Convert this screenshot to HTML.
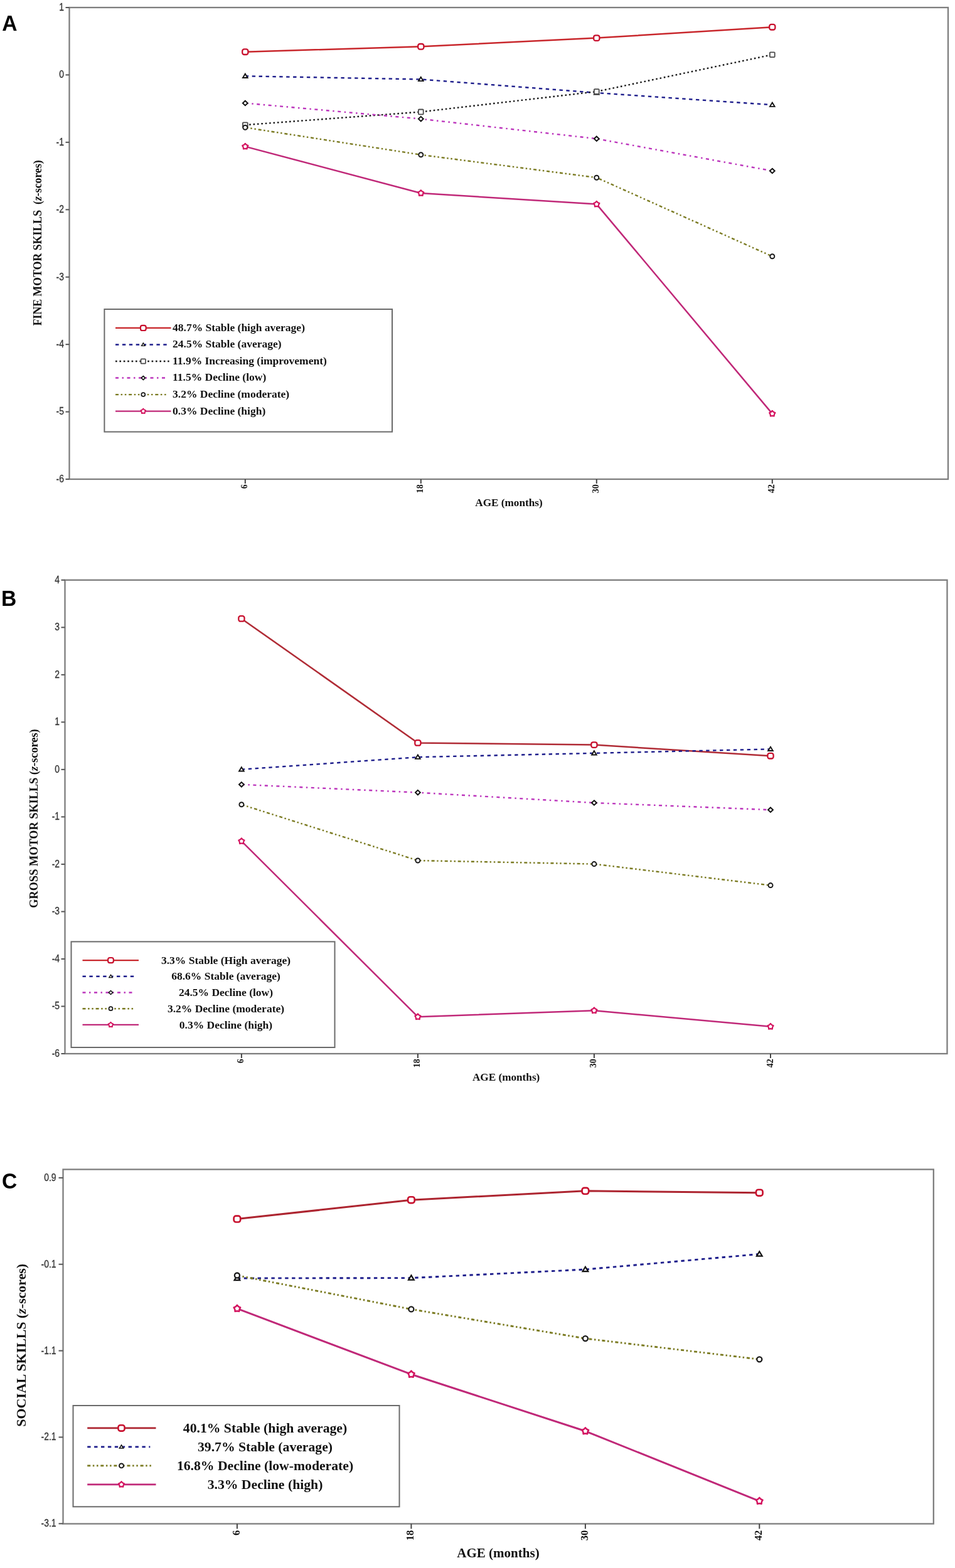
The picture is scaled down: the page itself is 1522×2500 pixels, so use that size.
<!DOCTYPE html>
<html><head><meta charset="utf-8"><title>Motor and social skills trajectories</title>
<style>html,body{margin:0;padding:0;background:#fff;}svg{display:block;}</style></head>
<body>
<svg width="1522" height="2500" viewBox="0 0 1522 2500">
<rect width="1522" height="2500" fill="#fff"/>
<rect x="110.5" y="12" width="1400.5" height="752" fill="none" stroke="#7d7d7d" stroke-width="2.3"/>
<line x1="104.5" y1="12" x2="110.5" y2="12" stroke="#555" stroke-width="2"/>
<text transform="translate(101.9,16.9) scale(0.88,1)" text-anchor="end" font-family='"Liberation Sans", Arial, sans-serif' font-size="15.8" fill="#333" stroke="#333" stroke-width="0.3">1</text>
<line x1="104.5" y1="119.43" x2="110.5" y2="119.43" stroke="#555" stroke-width="2"/>
<text transform="translate(101.9,124.33) scale(0.88,1)" text-anchor="end" font-family='"Liberation Sans", Arial, sans-serif' font-size="15.8" fill="#333" stroke="#333" stroke-width="0.3">0</text>
<line x1="104.5" y1="226.86" x2="110.5" y2="226.86" stroke="#555" stroke-width="2"/>
<text transform="translate(101.9,231.76) scale(0.88,1)" text-anchor="end" font-family='"Liberation Sans", Arial, sans-serif' font-size="15.8" fill="#333" stroke="#333" stroke-width="0.3">-1</text>
<line x1="104.5" y1="334.29" x2="110.5" y2="334.29" stroke="#555" stroke-width="2"/>
<text transform="translate(101.9,339.19) scale(0.88,1)" text-anchor="end" font-family='"Liberation Sans", Arial, sans-serif' font-size="15.8" fill="#333" stroke="#333" stroke-width="0.3">-2</text>
<line x1="104.5" y1="441.71" x2="110.5" y2="441.71" stroke="#555" stroke-width="2"/>
<text transform="translate(101.9,446.61) scale(0.88,1)" text-anchor="end" font-family='"Liberation Sans", Arial, sans-serif' font-size="15.8" fill="#333" stroke="#333" stroke-width="0.3">-3</text>
<line x1="104.5" y1="549.14" x2="110.5" y2="549.14" stroke="#555" stroke-width="2"/>
<text transform="translate(101.9,554.04) scale(0.88,1)" text-anchor="end" font-family='"Liberation Sans", Arial, sans-serif' font-size="15.8" fill="#333" stroke="#333" stroke-width="0.3">-4</text>
<line x1="104.5" y1="656.57" x2="110.5" y2="656.57" stroke="#555" stroke-width="2"/>
<text transform="translate(101.9,661.47) scale(0.88,1)" text-anchor="end" font-family='"Liberation Sans", Arial, sans-serif' font-size="15.8" fill="#333" stroke="#333" stroke-width="0.3">-5</text>
<line x1="104.5" y1="764" x2="110.5" y2="764" stroke="#555" stroke-width="2"/>
<text transform="translate(101.9,768.9) scale(0.88,1)" text-anchor="end" font-family='"Liberation Sans", Arial, sans-serif' font-size="15.8" fill="#333" stroke="#333" stroke-width="0.3">-6</text>
<line x1="390.8" y1="764" x2="390.8" y2="771" stroke="#444" stroke-width="2"/>
<text transform="translate(394.3,772.2) rotate(-90)" text-anchor="end" font-family='"Liberation Serif", "Times New Roman", serif' font-weight="bold" font-size="14" fill="#111">6</text>
<line x1="670.8" y1="764" x2="670.8" y2="771" stroke="#444" stroke-width="2"/>
<text transform="translate(674.3,772.2) rotate(-90)" text-anchor="end" font-family='"Liberation Serif", "Times New Roman", serif' font-weight="bold" font-size="14" fill="#111">18</text>
<line x1="950.8" y1="764" x2="950.8" y2="771" stroke="#444" stroke-width="2"/>
<text transform="translate(954.3,772.2) rotate(-90)" text-anchor="end" font-family='"Liberation Serif", "Times New Roman", serif' font-weight="bold" font-size="14" fill="#111">30</text>
<line x1="1230.8" y1="764" x2="1230.8" y2="771" stroke="#444" stroke-width="2"/>
<text transform="translate(1234.3,772.2) rotate(-90)" text-anchor="end" font-family='"Liberation Serif", "Times New Roman", serif' font-weight="bold" font-size="14" fill="#111">42</text>
<path d="M390.8,82.7 L670.8,74.3 L950.8,60.6 L1230.8,43.2" fill="none" stroke="#c8262b" stroke-width="2.5" stroke-linejoin="round"/>
<path d="M390.8,121.3 L670.8,126.5 L950.8,148 L1230.8,167.2" fill="none" stroke="#1e1e8c" stroke-width="2.4" stroke-dasharray="5.4 5.5" stroke-linejoin="round"/>
<path d="M390.8,199.2 L670.8,178.4 L950.8,146 L1230.8,87.2" fill="none" stroke="#1a1a1a" stroke-width="2.4" stroke-dasharray="2.6 3.8" stroke-linejoin="round"/>
<path d="M390.8,164.4 L670.8,189.6 L950.8,221.2 L1230.8,272.5" fill="none" stroke="#bc34bc" stroke-width="2.4" stroke-dasharray="5 5.5 2.5 5.5" stroke-linejoin="round"/>
<path d="M390.8,203.2 L670.8,246.8 L950.8,283.2 L1230.8,408.8" fill="none" stroke="#7b7b22" stroke-width="2.4" stroke-dasharray="5 3.6 2.5 3.7 2.5 3.8" stroke-linejoin="round"/>
<path d="M390.8,233.6 L670.8,308 L950.8,325.6 L1230.8,659.6" fill="none" stroke="#c02878" stroke-width="2.5" stroke-linejoin="round"/>
<rect x="386.2" y="78.4" width="9.2" height="8.6" rx="3" fill="#fff" stroke="#c8102e" stroke-width="2.3"/>
<rect x="666.2" y="70" width="9.2" height="8.6" rx="3" fill="#fff" stroke="#c8102e" stroke-width="2.3"/>
<rect x="946.2" y="56.3" width="9.2" height="8.6" rx="3" fill="#fff" stroke="#c8102e" stroke-width="2.3"/>
<rect x="1226.2" y="38.9" width="9.2" height="8.6" rx="3" fill="#fff" stroke="#c8102e" stroke-width="2.3"/>
<polygon points="390.8,117.67 394.6,123.94 387,123.94" fill="#fff" stroke="#111" stroke-width="1.9"/>
<polygon points="670.8,122.87 674.59,129.14 667,129.14" fill="#fff" stroke="#111" stroke-width="1.9"/>
<polygon points="950.8,144.37 954.59,150.64 947,150.64" fill="#fff" stroke="#111" stroke-width="1.9"/>
<polygon points="1230.8,163.57 1234.6,169.84 1227,169.84" fill="#fff" stroke="#111" stroke-width="1.9"/>
<rect x="386.9" y="195.3" width="7.8" height="7.8" rx="1" fill="#fff" stroke="#4a4a4a" stroke-width="1.8"/>
<rect x="666.9" y="174.5" width="7.8" height="7.8" rx="1" fill="#fff" stroke="#4a4a4a" stroke-width="1.8"/>
<rect x="946.9" y="142.1" width="7.8" height="7.8" rx="1" fill="#fff" stroke="#4a4a4a" stroke-width="1.8"/>
<rect x="1226.9" y="83.3" width="7.8" height="7.8" rx="1" fill="#fff" stroke="#4a4a4a" stroke-width="1.8"/>
<polygon points="390.8,160.7 394.69,164.4 390.8,168.1 386.92,164.4" fill="#fff" stroke="#111" stroke-width="2"/>
<polygon points="670.8,185.9 674.68,189.6 670.8,193.3 666.91,189.6" fill="#fff" stroke="#111" stroke-width="2"/>
<polygon points="950.8,217.5 954.68,221.2 950.8,224.9 946.91,221.2" fill="#fff" stroke="#111" stroke-width="2"/>
<polygon points="1230.8,268.8 1234.68,272.5 1230.8,276.2 1226.91,272.5" fill="#fff" stroke="#111" stroke-width="2"/>
<circle cx="390.8" cy="203.2" r="3.5" fill="#fff" stroke="#1a1a1a" stroke-width="2"/>
<circle cx="670.8" cy="246.8" r="3.5" fill="#fff" stroke="#1a1a1a" stroke-width="2"/>
<circle cx="950.8" cy="283.2" r="3.5" fill="#fff" stroke="#1a1a1a" stroke-width="2"/>
<circle cx="1230.8" cy="408.8" r="3.5" fill="#fff" stroke="#1a1a1a" stroke-width="2"/>
<polygon points="390.8,228.8 392.74,230.93 395.37,232.12 393.94,234.62 393.62,237.48 390.8,236.9 387.98,237.48 387.66,234.62 386.23,232.12 388.86,230.93" fill="#fff" stroke="#d4135f" stroke-width="2.2" stroke-linejoin="round"/>
<polygon points="670.8,303.2 672.74,305.33 675.37,306.52 673.94,309.02 673.62,311.88 670.8,311.3 667.98,311.88 667.66,309.02 666.23,306.52 668.86,305.33" fill="#fff" stroke="#d4135f" stroke-width="2.2" stroke-linejoin="round"/>
<polygon points="950.8,320.8 952.74,322.93 955.37,324.12 953.94,326.62 953.62,329.48 950.8,328.9 947.98,329.48 947.66,326.62 946.23,324.12 948.86,322.93" fill="#fff" stroke="#d4135f" stroke-width="2.2" stroke-linejoin="round"/>
<polygon points="1230.8,654.8 1232.74,656.93 1235.37,658.12 1233.94,660.62 1233.62,663.48 1230.8,662.9 1227.98,663.48 1227.66,660.62 1226.23,658.12 1228.86,656.93" fill="#fff" stroke="#d4135f" stroke-width="2.2" stroke-linejoin="round"/>
<rect x="166.4" y="493" width="458.6" height="195.5" fill="none" stroke="#6a6a6a" stroke-width="2"/>
<line x1="184" y1="522.9" x2="272.5" y2="522.9" stroke="#c8262b" stroke-width="2.4"/>
<rect x="223.93" y="518.81" width="8.74" height="8.17" rx="2.85" fill="#fff" stroke="#c8102e" stroke-width="2.18"/>
<text x="275" y="527.8" text-anchor="start" font-family='"Liberation Serif", "Times New Roman", serif' font-weight="bold" font-size="17.5" fill="#111">48.7% Stable (high average)</text>
<line x1="184" y1="549.45" x2="266" y2="549.45" stroke="#1e1e8c" stroke-width="2.4" stroke-dasharray="5.4 5.5"/>
<polygon points="228.3,546.86 231,551.33 225.6,551.33" fill="#fff" stroke="#111" stroke-width="1.35"/>
<text x="275" y="554.35" text-anchor="start" font-family='"Liberation Serif", "Times New Roman", serif' font-weight="bold" font-size="17.5" fill="#111">24.5% Stable (average)</text>
<line x1="184" y1="576" x2="269.6" y2="576" stroke="#1a1a1a" stroke-width="2.4" stroke-dasharray="2.6 3.8"/>
<rect x="224.59" y="572.29" width="7.41" height="7.41" rx="1" fill="#fff" stroke="#4a4a4a" stroke-width="1.71"/>
<text x="275" y="580.9" text-anchor="start" font-family='"Liberation Serif", "Times New Roman", serif' font-weight="bold" font-size="17.5" fill="#111">11.9% Increasing (improvement)</text>
<line x1="184" y1="602.55" x2="266" y2="602.55" stroke="#bc34bc" stroke-width="2.4" stroke-dasharray="5 5.5 2.5 5.5"/>
<polygon points="228.3,599.56 231.44,602.55 228.3,605.54 225.16,602.55" fill="#fff" stroke="#111" stroke-width="1.61"/>
<text x="275" y="607.45" text-anchor="start" font-family='"Liberation Serif", "Times New Roman", serif' font-weight="bold" font-size="17.5" fill="#111">11.5% Decline (low)</text>
<line x1="184" y1="629.1" x2="267.7" y2="629.1" stroke="#7b7b22" stroke-width="2.4" stroke-dasharray="5 3.6 2.5 3.7 2.5 3.8"/>
<circle cx="228.3" cy="629.1" r="2.99" fill="#fff" stroke="#1a1a1a" stroke-width="1.71"/>
<text x="275" y="634" text-anchor="start" font-family='"Liberation Serif", "Times New Roman", serif' font-weight="bold" font-size="17.5" fill="#111">3.2% Decline (moderate)</text>
<line x1="184" y1="655.65" x2="272.5" y2="655.65" stroke="#c02878" stroke-width="2.4"/>
<polygon points="228.3,651.55 229.96,653.37 232.2,654.38 230.98,656.52 230.71,658.97 228.3,658.47 225.89,658.97 225.62,656.52 224.4,654.38 226.64,653.37" fill="#fff" stroke="#d4135f" stroke-width="1.88" stroke-linejoin="round"/>
<text x="275" y="660.55" text-anchor="start" font-family='"Liberation Serif", "Times New Roman", serif' font-weight="bold" font-size="17.5" fill="#111">0.3% Decline (high)</text>
<text x="811" y="806.6" text-anchor="middle" font-family='"Liberation Serif", "Times New Roman", serif' font-weight="bold" font-size="17.2" fill="#111">AGE (months)</text>
<text transform="translate(66.2,387.3) rotate(-90)" text-anchor="middle" font-family='"Liberation Serif", "Times New Roman", serif' font-weight="bold" font-size="17.8" fill="#111" xml:space="preserve">FINE MOTOR SKILLS  (<tspan font-style="italic">z</tspan>-scores)</text>
<text transform="translate(3.3,48.6) scale(0.96,1)" font-family='"Liberation Sans", Arial, sans-serif' font-weight="bold" font-size="35" fill="#000">A</text>
<rect x="103.5" y="924.8" width="1406" height="755.2" fill="none" stroke="#7d7d7d" stroke-width="2.3"/>
<line x1="97.5" y1="924.8" x2="103.5" y2="924.8" stroke="#555" stroke-width="2"/>
<text transform="translate(95,929.7) scale(0.88,1)" text-anchor="end" font-family='"Liberation Sans", Arial, sans-serif' font-size="15.8" fill="#333" stroke="#333" stroke-width="0.3">4</text>
<line x1="97.5" y1="1000.32" x2="103.5" y2="1000.32" stroke="#555" stroke-width="2"/>
<text transform="translate(95,1005.22) scale(0.88,1)" text-anchor="end" font-family='"Liberation Sans", Arial, sans-serif' font-size="15.8" fill="#333" stroke="#333" stroke-width="0.3">3</text>
<line x1="97.5" y1="1075.84" x2="103.5" y2="1075.84" stroke="#555" stroke-width="2"/>
<text transform="translate(95,1080.74) scale(0.88,1)" text-anchor="end" font-family='"Liberation Sans", Arial, sans-serif' font-size="15.8" fill="#333" stroke="#333" stroke-width="0.3">2</text>
<line x1="97.5" y1="1151.36" x2="103.5" y2="1151.36" stroke="#555" stroke-width="2"/>
<text transform="translate(95,1156.26) scale(0.88,1)" text-anchor="end" font-family='"Liberation Sans", Arial, sans-serif' font-size="15.8" fill="#333" stroke="#333" stroke-width="0.3">1</text>
<line x1="97.5" y1="1226.88" x2="103.5" y2="1226.88" stroke="#555" stroke-width="2"/>
<text transform="translate(95,1231.78) scale(0.88,1)" text-anchor="end" font-family='"Liberation Sans", Arial, sans-serif' font-size="15.8" fill="#333" stroke="#333" stroke-width="0.3">0</text>
<line x1="97.5" y1="1302.4" x2="103.5" y2="1302.4" stroke="#555" stroke-width="2"/>
<text transform="translate(95,1307.3) scale(0.88,1)" text-anchor="end" font-family='"Liberation Sans", Arial, sans-serif' font-size="15.8" fill="#333" stroke="#333" stroke-width="0.3">-1</text>
<line x1="97.5" y1="1377.92" x2="103.5" y2="1377.92" stroke="#555" stroke-width="2"/>
<text transform="translate(95,1382.82) scale(0.88,1)" text-anchor="end" font-family='"Liberation Sans", Arial, sans-serif' font-size="15.8" fill="#333" stroke="#333" stroke-width="0.3">-2</text>
<line x1="97.5" y1="1453.44" x2="103.5" y2="1453.44" stroke="#555" stroke-width="2"/>
<text transform="translate(95,1458.34) scale(0.88,1)" text-anchor="end" font-family='"Liberation Sans", Arial, sans-serif' font-size="15.8" fill="#333" stroke="#333" stroke-width="0.3">-3</text>
<line x1="97.5" y1="1528.96" x2="103.5" y2="1528.96" stroke="#555" stroke-width="2"/>
<text transform="translate(95,1533.86) scale(0.88,1)" text-anchor="end" font-family='"Liberation Sans", Arial, sans-serif' font-size="15.8" fill="#333" stroke="#333" stroke-width="0.3">-4</text>
<line x1="97.5" y1="1604.48" x2="103.5" y2="1604.48" stroke="#555" stroke-width="2"/>
<text transform="translate(95,1609.38) scale(0.88,1)" text-anchor="end" font-family='"Liberation Sans", Arial, sans-serif' font-size="15.8" fill="#333" stroke="#333" stroke-width="0.3">-5</text>
<line x1="97.5" y1="1680" x2="103.5" y2="1680" stroke="#555" stroke-width="2"/>
<text transform="translate(95,1684.9) scale(0.88,1)" text-anchor="end" font-family='"Liberation Sans", Arial, sans-serif' font-size="15.8" fill="#333" stroke="#333" stroke-width="0.3">-6</text>
<line x1="384.9" y1="1680" x2="384.9" y2="1687" stroke="#444" stroke-width="2"/>
<text transform="translate(388.4,1688.3) rotate(-90)" text-anchor="end" font-family='"Liberation Serif", "Times New Roman", serif' font-weight="bold" font-size="14" fill="#111">6</text>
<line x1="665.9" y1="1680" x2="665.9" y2="1687" stroke="#444" stroke-width="2"/>
<text transform="translate(669.4,1688.3) rotate(-90)" text-anchor="end" font-family='"Liberation Serif", "Times New Roman", serif' font-weight="bold" font-size="14" fill="#111">18</text>
<line x1="946.9" y1="1680" x2="946.9" y2="1687" stroke="#444" stroke-width="2"/>
<text transform="translate(950.4,1688.3) rotate(-90)" text-anchor="end" font-family='"Liberation Serif", "Times New Roman", serif' font-weight="bold" font-size="14" fill="#111">30</text>
<line x1="1228" y1="1680" x2="1228" y2="1687" stroke="#444" stroke-width="2"/>
<text transform="translate(1231.5,1688.3) rotate(-90)" text-anchor="end" font-family='"Liberation Serif", "Times New Roman", serif' font-weight="bold" font-size="14" fill="#111">42</text>
<path d="M384.9,986.4 L665.9,1184.4 L946.9,1187.6 L1228,1205.2" fill="none" stroke="#b02b35" stroke-width="2.5" stroke-linejoin="round"/>
<path d="M384.9,1226.8 L665.9,1207.2 L946.9,1200.8 L1228,1194.4" fill="none" stroke="#1e1e8c" stroke-width="2.4" stroke-dasharray="5.4 5.5" stroke-linejoin="round"/>
<path d="M384.9,1250.8 L665.9,1263.6 L946.9,1280 L1228,1291.2" fill="none" stroke="#bc34bc" stroke-width="2.4" stroke-dasharray="5 5.5 2.5 5.5" stroke-linejoin="round"/>
<path d="M384.9,1282.8 L665.9,1372 L946.9,1377.6 L1228,1411.6" fill="none" stroke="#7b7b22" stroke-width="2.4" stroke-dasharray="5 3.6 2.5 3.7 2.5 3.8" stroke-linejoin="round"/>
<path d="M384.9,1341.2 L665.9,1621.2 L946.9,1611.2 L1228,1636.8" fill="none" stroke="#c02878" stroke-width="2.5" stroke-linejoin="round"/>
<rect x="380.3" y="982.1" width="9.2" height="8.6" rx="3" fill="#fff" stroke="#c8102e" stroke-width="2.3"/>
<rect x="661.3" y="1180.1" width="9.2" height="8.6" rx="3" fill="#fff" stroke="#c8102e" stroke-width="2.3"/>
<rect x="942.3" y="1183.3" width="9.2" height="8.6" rx="3" fill="#fff" stroke="#c8102e" stroke-width="2.3"/>
<rect x="1223.4" y="1200.9" width="9.2" height="8.6" rx="3" fill="#fff" stroke="#c8102e" stroke-width="2.3"/>
<polygon points="384.9,1223.17 388.69,1229.44 381.1,1229.44" fill="#fff" stroke="#111" stroke-width="1.9"/>
<polygon points="665.9,1203.57 669.69,1209.84 662.11,1209.84" fill="#fff" stroke="#111" stroke-width="1.9"/>
<polygon points="946.9,1197.17 950.69,1203.44 943.11,1203.44" fill="#fff" stroke="#111" stroke-width="1.9"/>
<polygon points="1228,1190.77 1231.8,1197.04 1224.2,1197.04" fill="#fff" stroke="#111" stroke-width="1.9"/>
<polygon points="384.9,1247.1 388.78,1250.8 384.9,1254.5 381.01,1250.8" fill="#fff" stroke="#111" stroke-width="2"/>
<polygon points="665.9,1259.9 669.78,1263.6 665.9,1267.3 662.01,1263.6" fill="#fff" stroke="#111" stroke-width="2"/>
<polygon points="946.9,1276.3 950.78,1280 946.9,1283.7 943.01,1280" fill="#fff" stroke="#111" stroke-width="2"/>
<polygon points="1228,1287.5 1231.88,1291.2 1228,1294.9 1224.12,1291.2" fill="#fff" stroke="#111" stroke-width="2"/>
<circle cx="384.9" cy="1282.8" r="3.5" fill="#fff" stroke="#1a1a1a" stroke-width="2"/>
<circle cx="665.9" cy="1372" r="3.5" fill="#fff" stroke="#1a1a1a" stroke-width="2"/>
<circle cx="946.9" cy="1377.6" r="3.5" fill="#fff" stroke="#1a1a1a" stroke-width="2"/>
<circle cx="1228" cy="1411.6" r="3.5" fill="#fff" stroke="#1a1a1a" stroke-width="2"/>
<polygon points="384.9,1336.4 386.84,1338.53 389.47,1339.72 388.04,1342.22 387.72,1345.08 384.9,1344.5 382.08,1345.08 381.76,1342.22 380.33,1339.72 382.96,1338.53" fill="#fff" stroke="#d4135f" stroke-width="2.2" stroke-linejoin="round"/>
<polygon points="665.9,1616.4 667.84,1618.53 670.47,1619.72 669.04,1622.22 668.72,1625.08 665.9,1624.5 663.08,1625.08 662.76,1622.22 661.33,1619.72 663.96,1618.53" fill="#fff" stroke="#d4135f" stroke-width="2.2" stroke-linejoin="round"/>
<polygon points="946.9,1606.4 948.84,1608.53 951.47,1609.72 950.04,1612.22 949.72,1615.08 946.9,1614.5 944.08,1615.08 943.76,1612.22 942.33,1609.72 944.96,1608.53" fill="#fff" stroke="#d4135f" stroke-width="2.2" stroke-linejoin="round"/>
<polygon points="1228,1632 1229.94,1634.13 1232.57,1635.32 1231.14,1637.82 1230.82,1640.68 1228,1640.1 1225.18,1640.68 1224.86,1637.82 1223.43,1635.32 1226.06,1634.13" fill="#fff" stroke="#d4135f" stroke-width="2.2" stroke-linejoin="round"/>
<rect x="113.5" y="1501.4" width="420" height="168.6" fill="none" stroke="#6a6a6a" stroke-width="2"/>
<line x1="131.5" y1="1531.1" x2="221" y2="1531.1" stroke="#c8262b" stroke-width="2.4"/>
<rect x="172.13" y="1527.01" width="8.74" height="8.17" rx="2.85" fill="#fff" stroke="#c8102e" stroke-width="2.18"/>
<text x="360" y="1536.7" text-anchor="middle" font-family='"Liberation Serif", "Times New Roman", serif' font-weight="bold" font-size="17.5" fill="#111">3.3% Stable (High average)</text>
<line x1="131.5" y1="1556.8" x2="214" y2="1556.8" stroke="#1e1e8c" stroke-width="2.4" stroke-dasharray="5.4 5.5"/>
<polygon points="176.5,1554.21 179.2,1558.68 173.8,1558.68" fill="#fff" stroke="#111" stroke-width="1.35"/>
<text x="360" y="1562.4" text-anchor="middle" font-family='"Liberation Serif", "Times New Roman", serif' font-weight="bold" font-size="17.5" fill="#111">68.6% Stable (average)</text>
<line x1="131.5" y1="1582.5" x2="214" y2="1582.5" stroke="#bc34bc" stroke-width="2.4" stroke-dasharray="5 5.5 2.5 5.5"/>
<polygon points="176.5,1579.51 179.64,1582.5 176.5,1585.49 173.36,1582.5" fill="#fff" stroke="#111" stroke-width="1.61"/>
<text x="360" y="1588.1" text-anchor="middle" font-family='"Liberation Serif", "Times New Roman", serif' font-weight="bold" font-size="17.5" fill="#111">24.5% Decline (low)</text>
<line x1="131.5" y1="1608.2" x2="215.5" y2="1608.2" stroke="#7b7b22" stroke-width="2.4" stroke-dasharray="5 3.6 2.5 3.7 2.5 3.8"/>
<circle cx="176.5" cy="1608.2" r="2.99" fill="#fff" stroke="#1a1a1a" stroke-width="1.71"/>
<text x="360" y="1613.8" text-anchor="middle" font-family='"Liberation Serif", "Times New Roman", serif' font-weight="bold" font-size="17.5" fill="#111">3.2% Decline (moderate)</text>
<line x1="131.5" y1="1633.9" x2="221" y2="1633.9" stroke="#c02878" stroke-width="2.4"/>
<polygon points="176.5,1629.8 178.16,1631.62 180.4,1632.63 179.18,1634.77 178.91,1637.22 176.5,1636.72 174.09,1637.22 173.82,1634.77 172.6,1632.63 174.84,1631.62" fill="#fff" stroke="#d4135f" stroke-width="1.88" stroke-linejoin="round"/>
<text x="360" y="1639.5" text-anchor="middle" font-family='"Liberation Serif", "Times New Roman", serif' font-weight="bold" font-size="17.5" fill="#111">0.3% Decline (high)</text>
<text x="806.6" y="1722.8" text-anchor="middle" font-family='"Liberation Serif", "Times New Roman", serif' font-weight="bold" font-size="17.2" fill="#111">AGE (months)</text>
<text transform="translate(59.8,1305) rotate(-90)" text-anchor="middle" font-family='"Liberation Serif", "Times New Roman", serif' font-weight="bold" font-size="18.3" fill="#111" xml:space="preserve">GROSS MOTOR SKILLS (<tspan font-style="italic">z</tspan>-scores)</text>
<text transform="translate(2,965.5) scale(0.96,1)" font-family='"Liberation Sans", Arial, sans-serif' font-weight="bold" font-size="35" fill="#000">B</text>
<rect x="100.5" y="1864.5" width="1387.3" height="565" fill="none" stroke="#7d7d7d" stroke-width="2.3"/>
<line x1="93.5" y1="1877.9" x2="100.5" y2="1877.9" stroke="#555" stroke-width="2"/>
<text transform="translate(89.5,1882.8) scale(0.88,1)" text-anchor="end" font-family='"Liberation Sans", Arial, sans-serif' font-size="15.8" fill="#333" stroke="#333" stroke-width="0.3">0.9</text>
<line x1="93.5" y1="2015.75" x2="100.5" y2="2015.75" stroke="#555" stroke-width="2"/>
<text transform="translate(89.5,2020.65) scale(0.88,1)" text-anchor="end" font-family='"Liberation Sans", Arial, sans-serif' font-size="15.8" fill="#333" stroke="#333" stroke-width="0.3">-0.1</text>
<line x1="93.5" y1="2153.6" x2="100.5" y2="2153.6" stroke="#555" stroke-width="2"/>
<text transform="translate(89.5,2158.5) scale(0.88,1)" text-anchor="end" font-family='"Liberation Sans", Arial, sans-serif' font-size="15.8" fill="#333" stroke="#333" stroke-width="0.3">-1.1</text>
<line x1="93.5" y1="2291.45" x2="100.5" y2="2291.45" stroke="#555" stroke-width="2"/>
<text transform="translate(89.5,2296.35) scale(0.88,1)" text-anchor="end" font-family='"Liberation Sans", Arial, sans-serif' font-size="15.8" fill="#333" stroke="#333" stroke-width="0.3">-2.1</text>
<line x1="93.5" y1="2429.3" x2="100.5" y2="2429.3" stroke="#555" stroke-width="2"/>
<text transform="translate(89.5,2434.2) scale(0.88,1)" text-anchor="end" font-family='"Liberation Sans", Arial, sans-serif' font-size="15.8" fill="#333" stroke="#333" stroke-width="0.3">-3.1</text>
<line x1="377.9" y1="2429.5" x2="377.9" y2="2437.5" stroke="#444" stroke-width="2"/>
<text transform="translate(381.7,2439.8) rotate(-90)" text-anchor="end" font-family='"Liberation Serif", "Times New Roman", serif' font-weight="bold" font-size="16.5" fill="#111">6</text>
<line x1="655.4" y1="2429.5" x2="655.4" y2="2437.5" stroke="#444" stroke-width="2"/>
<text transform="translate(659.2,2439.8) rotate(-90)" text-anchor="end" font-family='"Liberation Serif", "Times New Roman", serif' font-weight="bold" font-size="16.5" fill="#111">18</text>
<line x1="932.9" y1="2429.5" x2="932.9" y2="2437.5" stroke="#444" stroke-width="2"/>
<text transform="translate(936.7,2439.8) rotate(-90)" text-anchor="end" font-family='"Liberation Serif", "Times New Roman", serif' font-weight="bold" font-size="16.5" fill="#111">30</text>
<line x1="1210.3" y1="2429.5" x2="1210.3" y2="2437.5" stroke="#444" stroke-width="2"/>
<text transform="translate(1214.1,2439.8) rotate(-90)" text-anchor="end" font-family='"Liberation Serif", "Times New Roman", serif' font-weight="bold" font-size="16.5" fill="#111">42</text>
<path d="M377.9,1943.6 L655.4,1913.2 L932.9,1898.8 L1210.3,1901.7" fill="none" stroke="#ad2530" stroke-width="3" stroke-linejoin="round"/>
<path d="M377.9,2038 L655.4,2037.6 L932.9,2024 L1210.3,1999.5" fill="none" stroke="#1e1e8c" stroke-width="2.88" stroke-dasharray="5.4 5.5" stroke-linejoin="round"/>
<path d="M377.9,2033.5 L655.4,2087.4 L932.9,2134.1 L1210.3,2167.3" fill="none" stroke="#7b7b22" stroke-width="2.88" stroke-dasharray="5 3.6 2.5 3.7 2.5 3.8" stroke-linejoin="round"/>
<path d="M377.9,2086.4 L655.4,2191.2 L932.9,2281.8 L1210.3,2393.3" fill="none" stroke="#c02878" stroke-width="3" stroke-linejoin="round"/>
<rect x="372.61" y="1938.65" width="10.58" height="9.89" rx="3.45" fill="#fff" stroke="#c8102e" stroke-width="2.64"/>
<rect x="650.11" y="1908.26" width="10.58" height="9.89" rx="3.45" fill="#fff" stroke="#c8102e" stroke-width="2.64"/>
<rect x="927.61" y="1893.86" width="10.58" height="9.89" rx="3.45" fill="#fff" stroke="#c8102e" stroke-width="2.64"/>
<rect x="1205.01" y="1896.76" width="10.58" height="9.89" rx="3.45" fill="#fff" stroke="#c8102e" stroke-width="2.64"/>
<polygon points="377.9,2033.83 382.26,2041.04 373.54,2041.04" fill="#fff" stroke="#111" stroke-width="2.18"/>
<polygon points="655.4,2033.43 659.76,2040.64 651.04,2040.64" fill="#fff" stroke="#111" stroke-width="2.18"/>
<polygon points="932.9,2019.83 937.26,2027.04 928.54,2027.04" fill="#fff" stroke="#111" stroke-width="2.18"/>
<polygon points="1210.3,1995.33 1214.66,2002.54 1205.94,2002.54" fill="#fff" stroke="#111" stroke-width="2.18"/>
<circle cx="377.9" cy="2033.5" r="4.02" fill="#fff" stroke="#1a1a1a" stroke-width="2.3"/>
<circle cx="655.4" cy="2087.4" r="4.02" fill="#fff" stroke="#1a1a1a" stroke-width="2.3"/>
<circle cx="932.9" cy="2134.1" r="4.02" fill="#fff" stroke="#1a1a1a" stroke-width="2.3"/>
<circle cx="1210.3" cy="2167.3" r="4.02" fill="#fff" stroke="#1a1a1a" stroke-width="2.3"/>
<polygon points="377.9,2080.88 380.13,2083.33 383.15,2084.69 381.51,2087.57 381.14,2090.87 377.9,2090.2 374.66,2090.87 374.29,2087.57 372.65,2084.69 375.67,2083.33" fill="#fff" stroke="#d4135f" stroke-width="2.53" stroke-linejoin="round"/>
<polygon points="655.4,2185.68 657.63,2188.13 660.65,2189.49 659.01,2192.37 658.64,2195.67 655.4,2194.99 652.16,2195.67 651.79,2192.37 650.15,2189.49 653.17,2188.13" fill="#fff" stroke="#d4135f" stroke-width="2.53" stroke-linejoin="round"/>
<polygon points="932.9,2276.28 935.13,2278.73 938.15,2280.09 936.51,2282.97 936.14,2286.27 932.9,2285.6 929.66,2286.27 929.29,2282.97 927.65,2280.09 930.67,2278.73" fill="#fff" stroke="#d4135f" stroke-width="2.53" stroke-linejoin="round"/>
<polygon points="1210.3,2387.78 1212.53,2390.23 1215.55,2391.59 1213.91,2394.47 1213.54,2397.77 1210.3,2397.1 1207.06,2397.77 1206.69,2394.47 1205.05,2391.59 1208.07,2390.23" fill="#fff" stroke="#d4135f" stroke-width="2.53" stroke-linejoin="round"/>
<rect x="116.5" y="2241" width="520" height="161.3" fill="none" stroke="#6a6a6a" stroke-width="2"/>
<line x1="139.2" y1="2276.9" x2="248.5" y2="2276.9" stroke="#ad2530" stroke-width="2.6"/>
<rect x="188.44" y="2272.17" width="10.12" height="9.46" rx="3.3" fill="#fff" stroke="#c8102e" stroke-width="2.53"/>
<text x="422.5" y="2283.9" text-anchor="middle" font-family='"Liberation Serif", "Times New Roman", serif' font-weight="bold" font-size="21.7" fill="#111">40.1% Stable (high average)</text>
<line x1="139.2" y1="2306.9" x2="239.3" y2="2306.9" stroke="#1e1e8c" stroke-width="2.6" stroke-dasharray="5.4 5.5"/>
<polygon points="193.5,2303.91 196.63,2309.08 190.37,2309.08" fill="#fff" stroke="#111" stroke-width="1.57"/>
<text x="422.5" y="2313.9" text-anchor="middle" font-family='"Liberation Serif", "Times New Roman", serif' font-weight="bold" font-size="21.7" fill="#111">39.7% Stable (average)</text>
<line x1="139.2" y1="2336.9" x2="241.2" y2="2336.9" stroke="#7b7b22" stroke-width="2.6" stroke-dasharray="5 3.6 2.5 3.7 2.5 3.8"/>
<circle cx="193.5" cy="2336.9" r="3.47" fill="#fff" stroke="#1a1a1a" stroke-width="1.98"/>
<text x="422.5" y="2343.9" text-anchor="middle" font-family='"Liberation Serif", "Times New Roman", serif' font-weight="bold" font-size="21.7" fill="#111">16.8% Decline (low-moderate)</text>
<line x1="139.2" y1="2366.9" x2="248.5" y2="2366.9" stroke="#c02878" stroke-width="2.6"/>
<polygon points="193.5,2362.15 195.42,2364.26 198.02,2365.43 196.61,2367.91 196.29,2370.74 193.5,2370.17 190.71,2370.74 190.39,2367.91 188.98,2365.43 191.58,2364.26" fill="#fff" stroke="#d4135f" stroke-width="2.18" stroke-linejoin="round"/>
<text x="422.5" y="2373.9" text-anchor="middle" font-family='"Liberation Serif", "Times New Roman", serif' font-weight="bold" font-size="21.7" fill="#111">3.3% Decline (high)</text>
<text x="794" y="2483" text-anchor="middle" font-family='"Liberation Serif", "Times New Roman", serif' font-weight="bold" font-size="21" fill="#111">AGE (months)</text>
<text transform="translate(40.8,2144.8) rotate(-90)" text-anchor="middle" font-family='"Liberation Serif", "Times New Roman", serif' font-weight="bold" font-size="21.9" fill="#111" xml:space="preserve">SOCIAL SKILLS (<tspan font-style="italic">z</tspan>-scores)</text>
<text transform="translate(2.9,1894.6) scale(0.96,1)" font-family='"Liberation Sans", Arial, sans-serif' font-weight="bold" font-size="35" fill="#000">C</text>
</svg>
</body></html>
